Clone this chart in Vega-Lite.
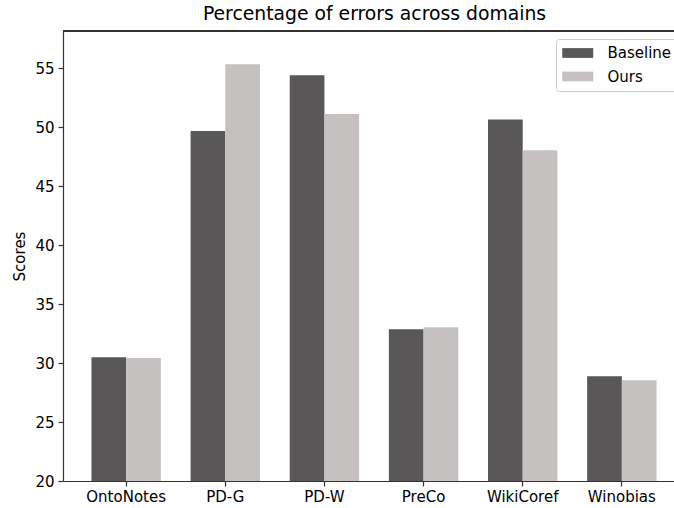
{
  "$schema": "https://vega.github.io/schema/vega-lite/v6.json",
  "width": 611,
  "height": 450,
  "autosize": {"type": "none"},
  "padding": {"left": 63, "top": 31, "right": 0, "bottom": 27},
  "background": "white",
  "config": {"view": {"stroke": null}, "font": "DejaVu Sans"},
  "title": {"text": "Percentage of errors across domains", "fontSize": 18.8, "font": "DejaVu Sans", "fontWeight": "normal", "color": "black", "offset": 7, "anchor": "middle", "dx": 6},
  "data": {"values": [
    {"domain": "OntoNotes", "method": "Baseline", "score": 30.49},
    {"domain": "OntoNotes", "method": "Ours", "score": 30.43},
    {"domain": "PD-G", "method": "Baseline", "score": 49.69},
    {"domain": "PD-G", "method": "Ours", "score": 55.34},
    {"domain": "PD-W", "method": "Baseline", "score": 54.41},
    {"domain": "PD-W", "method": "Ours", "score": 51.13},
    {"domain": "PreCo", "method": "Baseline", "score": 32.86},
    {"domain": "PreCo", "method": "Ours", "score": 33.03},
    {"domain": "WikiCoref", "method": "Baseline", "score": 50.65},
    {"domain": "WikiCoref", "method": "Ours", "score": 48.05},
    {"domain": "Winobias", "method": "Baseline", "score": 28.88},
    {"domain": "Winobias", "method": "Ours", "score": 28.54}
  ]},
  "layer": [
    {
      "mark": {"type": "bar"},
      "encoding": {
        "x": {"field": "domain", "type": "nominal", "sort": null,
          "scale": {"range": [0, 622], "paddingInner": 0.3, "paddingOuter": 0.287},
          "axis": {"title": null, "labelAngle": 0, "labelFontSize": 15, "labelColor": "black", "labelPadding": 3, "domainColor": "#333", "domainWidth": 1.2, "tickColor": "#333", "tickWidth": 1.2, "tickSize": 5, "grid": false}},
        "xOffset": {"field": "method", "type": "nominal", "sort": ["Baseline", "Ours"], "scale": {"paddingInner": 0, "paddingOuter": 0}},
        "y": {"field": "score", "type": "quantitative",
          "scale": {"domain": [20, 58.16], "nice": false, "zero": false},
          "axis": {"values": [20, 25, 30, 35, 40, 45, 50, 55], "title": "Scores", "titleFontSize": 15, "titleFontWeight": "normal", "titleColor": "black", "titlePadding": 7, "labelFontSize": 15, "labelColor": "black", "labelPadding": 4, "domainColor": "#333", "domainWidth": 1.2, "tickColor": "#333", "tickWidth": 1.2, "tickSize": 5, "grid": false}},
        "y2": {"datum": 20},
        "color": {"field": "method", "type": "nominal",
          "scale": {"domain": ["Baseline", "Ours"], "range": ["#595758", "#c5c1c0"]},
          "legend": {"title": null, "orient": "none", "legendX": 493, "legendY": 8, "labelFontSize": 15, "labelColor": "black", "symbolType": "M-1,-0.63H3V0.63H-1Z", "symbolSize": 240, "symbolStrokeWidth": 0, "labelOffset": 29.5, "padding": 6, "rowPadding": 7.5, "strokeColor": "#cccccc", "fillColor": "rgba(255,255,255,0.8)", "cornerRadius": 3}}
      }
    },
    {
      "mark": {"type": "rule", "color": "#333", "strokeWidth": 1.2},
      "encoding": {"y": {"datum": 58.16}}
    }
  ]
}
